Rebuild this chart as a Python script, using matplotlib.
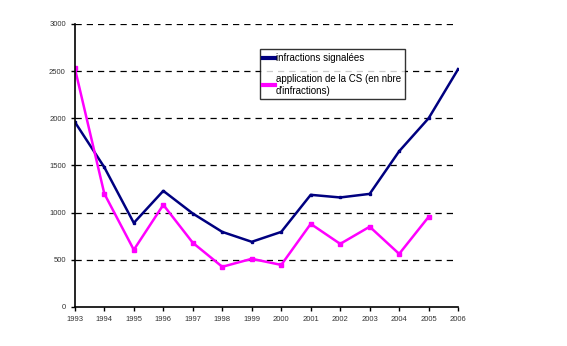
import matplotlib.pyplot as plt

plt.rcParams['font.family'] = ['Liberation Sans', 'DejaVu Sans']

years = list(range(1993, 2007))
infractions = [1960, 1480, 890, 1230, 990, 795, 690, 795, 1188, 1160, 1198, 1650, 2000, 2520]
years_cs = list(range(1993, 2006))
application_cs = [2530, 1200, 605, 1082, 680, 425, 510, 445, 880, 668, 850, 562, 955]

fig = plt.figure(figsize=(5.67, 3.46), dpi=100)
ax = fig.add_axes([0.132, 0.113, 0.676, 0.818])

ax.plot(years, infractions, color='#000080', lw=1.8, marker='s', ms=2,
        label='infractions signalées')
ax.plot(years_cs, application_cs, color='#ff00ff', lw=1.8, marker='s', ms=3.2,
        label="application de la CS (en nbre\nd'infractions)")

ax.set_xlim(1993, 2006)
ax.set_ylim(0, 3000)
ax.set_xticks(years)
ax.set_yticks(range(0, 3001, 500))
ax.tick_params(labelsize=5.5, length=3, width=1, labelcolor='#333333')
for s in ['top', 'right']:
    ax.spines[s].set_visible(False)
for s in ['left', 'bottom']:
    ax.spines[s].set_linewidth(1.2)
for v in range(500, 3001, 500):
    ax.axhline(v, color='black', lw=0.9, ls=(0, (5, 4)), zorder=0)

leg = ax.legend(loc='upper left', bbox_to_anchor=(0.482, 0.91), fontsize=7,
                frameon=True, fancybox=False, handlelength=1.2,
                handletextpad=0.1, labelspacing=1.1, borderaxespad=0,
                borderpad=0.4)
leg.get_frame().set_edgecolor('black')
leg.get_frame().set_linewidth(1)
for h in leg.legend_handles:
    h.set_marker('')
    h.set_linewidth(3)

fig.savefig('out.png', dpi=100)
